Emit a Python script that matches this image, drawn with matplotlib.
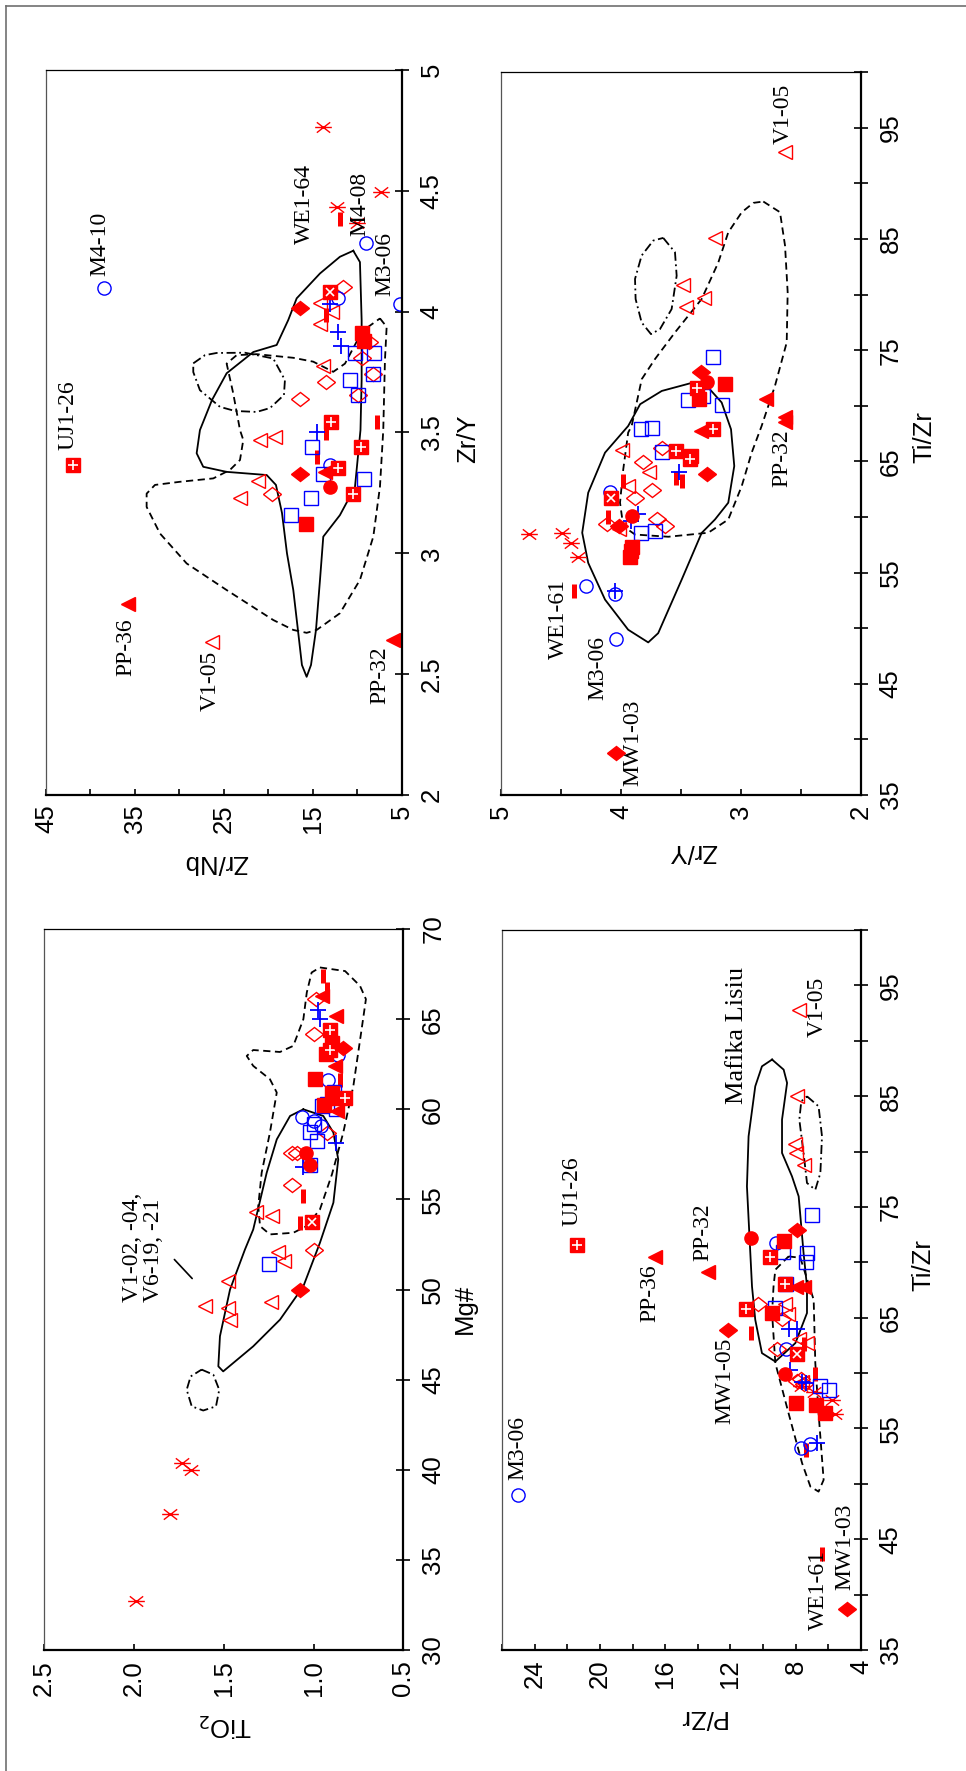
import matplotlib
matplotlib.use("Agg")
import matplotlib.pyplot as plt
from matplotlib.markers import MarkerStyle
from matplotlib.path import Path
from matplotlib.transforms import Affine2D
from matplotlib.lines import Line2D

RED = "#ff0000"
BLUE = "#0000ff"
SANS = ["Liberation Sans Narrow", "Liberation Sans", "DejaVu Sans"]
SERIF = ["Liberation Serif", "DejaVu Serif"]
plt.rcParams["font.family"] = SANS

# The page is rotated 90 degrees: every panel shows its original x variable
# running up the right side and its original y variable along the bottom.

# ---------- Zr/Nb vs Zr/Y (top left) ; each entry ([Zr/Y], [Zr/Nb]) ----------
zry_pts = {
    "star":   ([4.765, 4.496, 4.434, 4.365], [13.9, 7.3, 12.3, 10.1]),
    "dash":   ([4.385, 3.986, 3.545, 3.496, 3.40], [12.0, 13.5, 7.8, 13.5, 14.6]),
    "circ_o": ([4.285, 4.096, 4.03, 4.055, 3.365], [9.0, 38.45, 5.2, 12.15, 13.1]),
    "sq_o":   ([3.83, 3.83, 3.717, 3.742, 3.655, 3.44, 3.33, 3.307, 3.23, 3.158],
               [10.3, 8.15, 10.8, 8.2, 9.9, 15.15, 13.9, 9.3, 15.2, 17.5]),
    "dia_o":  ([4.10, 3.875, 3.81, 3.71, 3.742, 3.655, 3.637, 3.247],
               [11.6, 8.7, 9.5, 13.5, 8.2, 9.9, 16.5, 19.6]),
    "tri_o":  ([4.036, 4.0, 3.95, 3.775, 3.469, 3.48, 3.30, 3.227, 2.634],
               [14.2, 12.9, 14.2, 13.85, 21.0, 19.3, 21.15, 23.2, 26.3]),
    "plus":   ([4.03, 3.916, 3.858, 3.502, 3.35], [13.1, 12.2, 11.8, 14.6, 12.9]),
    "dia_f":  ([4.017, 3.33], [16.5, 16.5]),
    "sq_f":   ([3.91, 3.88, 3.12], [9.5, 9.3, 15.8]),
    "tri_f":  ([3.337, 2.79, 2.64], [13.65, 35.75, 5.98]),
    "circ_f": ([3.275], [13.1]),
    "sqx":    ([4.08], [13.1]),
    "sqplus": ([3.545, 3.44, 3.355, 3.245, 3.365], [13.0, 9.65, 12.2, 10.55, 42.0]),
}
zry_solid = ([4.252, 4.205, 3.965, 3.717, 3.51, 3.274, 3.158, 3.069, 2.89, 2.683, 2.538,
              2.489, 2.538, 2.683, 2.848, 3.0, 3.167, 3.283, 3.324, 3.337, 3.358, 3.414,
              3.51, 3.634, 3.745, 3.833, 3.862, 3.965, 4.055, 4.158, 4.227],
             [10.47, 9.72, 9.53, 9.53, 9.66, 10.28, 11.97, 13.84, 14.21, 14.66, 15.22,
              15.71, 16.24, 16.69, 17.21, 17.92, 18.48, 19.16, 20.2, 24.7, 27.33, 28.07,
              27.7, 26.35, 24.7, 21.7, 19.08, 17.78, 16.83, 14.21, 11.97])
zry_dashed = ([3.972, 3.937, 3.80, 3.51, 3.276, 3.069, 2.89, 2.752, 2.683, 2.671, 2.683,
               2.724, 2.848, 2.958, 3.082, 3.192, 3.247, 3.283, 3.296, 3.31, 3.345, 3.386,
               3.469, 3.51, 3.662, 3.785, 3.82, 3.824, 3.809, 3.793, 3.751, 3.785, 3.875,
               3.937],
              [7.47, 6.72, 6.91, 7.1, 7.47, 8.22, 9.72, 11.97, 14.58, 15.71, 17.21, 19.46,
               24.7, 29.19, 32.19, 33.69, 33.69, 32.75, 29.94, 26.2, 24.33, 23.2, 22.83,
               23.2, 23.96, 24.7, 23.57, 21.33, 17.21, 14.97, 12.72, 11.4, 10.1, 8.79])
zry_dashdot = ([3.786, 3.82, 3.829, 3.83, 3.806, 3.717, 3.655, 3.601, 3.585, 3.589, 3.606,
                3.675, 3.75],
               [28.45, 27.13, 25.82, 22.64, 19.46, 18.15, 18.26, 19.83, 21.33, 23.76,
                25.45, 27.7, 28.45])
zry_notes = [("UJ1-26", 3.427, 42.5), ("M4-10", 4.147, 38.9), ("WE1-64", 4.28, 15.9),
             ("M4-08", 4.313, 9.7), ("M3-06", 4.065, 6.9), ("PP-36", 2.492, 36.0),
             ("V1-05", 2.348, 26.5), ("PP-32", 2.376, 7.5)]

# ---------- Zr/Y vs Ti/Zr (top right) ; each entry ([Ti/Zr], [Zr/Y]) ----------
tzy_pts = {
    "tri_o":  ([92.8, 85.06, 80.86, 79.66, 78.85, 66.0, 64.0, 62.75, 58.9],
               [2.633, 3.22, 3.48, 3.306, 3.46, 3.99, 3.77, 3.94, 4.02]),
    "sq_o":   ([74.34, 70.5, 70.86, 70.1, 67.9, 68.0, 65.8, 58.55, 58.7],
               [3.23, 3.44, 3.32, 3.16, 3.83, 3.74, 3.66, 3.83, 3.72]),
    "dia_o":  ([66.2, 64.9, 62.4, 61.67, 59.4, 59.2, 59.8],
               [3.66, 3.82, 3.74, 3.88, 4.12, 3.63, 3.70]),
    "plus":   ([64.0, 60.3, 59.6, 53.3], [3.52, 3.86, 3.92, 4.05]),
    "dash":   ([63.5, 63.2, 63.2, 60.0, 53.3], [3.54, 3.49, 3.98, 4.11, 4.39]),
    "circ_o": ([62.2, 53.8, 53.1, 49.05], [4.09, 4.29, 4.05, 4.04]),
    "star":   ([58.5, 58.55, 57.65, 56.4], [4.77, 4.49, 4.42, 4.36]),
    "dia_f":  ([73.05, 63.9, 59.2, 38.8], [3.33, 3.28, 4.02, 4.04]),
    "circ_f": ([72.15, 60.05], [3.28, 3.91]),
    "sq_f":   ([71.94, 70.6, 65.5, 57.3, 56.4, 56.9], [3.13, 3.35, 3.42, 3.91, 3.925, 3.92]),
    "tri_f":  ([70.6, 69.0, 68.5, 67.7], [2.79, 2.63, 2.63, 3.33]),
    "sqx":    ([61.7], [4.08]),
    "sqplus": ([71.6, 67.9, 65.9, 65.2], [3.37, 3.23, 3.54, 3.425]),
}
tzy_solid = ([72.09, 71.33, 70.14, 68.18, 65.78, 62.18, 58.58, 55.87, 52.57, 49.86, 48.72,
              49.55, 54.37, 58.56, 59.77, 61.28, 64.58, 67.88, 70.29, 71.64],
             [3.398, 3.66, 3.84, 3.94, 4.133, 4.273, 4.323, 4.273, 4.133, 3.94, 3.773,
              3.69, 3.494, 3.328, 3.217, 3.106, 3.056, 3.083, 3.161, 3.273])
tzy_dashed = ([88.36, 87.4, 84.4, 80.2, 75.69, 71.78, 68.18, 65.78, 62.77, 59.77, 58.58,
               58.22, 58.42, 59.17, 61.28, 64.28, 67.59, 68.18, 72.39, 74.19, 76.59, 79.59,
               82.88, 85.59, 87.39, 88.24],
              [2.814, 2.675, 2.633, 2.611, 2.619, 2.717, 2.828, 2.911, 2.994, 3.106, 3.273,
               3.606, 3.883, 3.981, 4.008, 3.981, 3.94, 3.911, 3.827, 3.717, 3.55, 3.328,
               3.189, 3.106, 2.994, 2.897])
tzy_dashdot = ([85.09, 83.8, 81.69, 78.69, 76.89, 76.44, 77.49, 79.59, 81.4, 83.5, 84.85],
               [3.648, 3.55, 3.536, 3.578, 3.675, 3.75, 3.828, 3.878, 3.883, 3.828, 3.731])
tzy_notes = [("V1-05", 93.56, 2.65), ("PP-32", 62.66, 2.658), ("WE1-61", 47.25, 4.525),
             ("M3-06", 43.56, 4.19), ("MW1-03", 35.81, 3.9)]

# ---------- TiO2 vs Mg# (bottom left) ; each entry ([Mg#], [TiO2]) ----------
mg_pts = {
    "dash":   ([67.4, 66.7, 61.65, 55.2, 53.7], [0.95, 0.924, 0.853, 1.057, 1.076]),
    "dia_o":  ([66.1, 64.2, 58.7, 57.6, 57.6, 55.8, 52.2],
               [0.987, 1.0, 0.927, 1.122, 1.09, 1.12, 1.0]),
    "plus":   ([65.5, 65.0, 58.15, 56.8], [0.974, 0.964, 0.876, 1.057]),
    "sq_f":   ([63.7, 63.05, 61.7, 60.9, 60.6, 60.25], [0.90, 0.93, 0.99, 0.90, 0.89, 0.94]),
    "tri_f":  ([66.3, 65.2, 62.4, 59.9], [0.955, 0.875, 0.88, 0.87]),
    "sqplus": ([64.4, 63.3, 60.65], [0.909, 0.91, 0.826]),
    "dia_f":  ([63.4, 49.96], [0.835, 1.076]),
    "circ_o": ([63.0, 61.65, 59.6, 59.35, 59.07], [0.866, 0.918, 1.066, 1.0, 0.957]),
    "sq_o":   ([60.96, 60.2, 60.3, 60.04, 59.2, 58.74, 58.24, 56.9, 51.4],
               [0.885, 0.955, 0.927, 0.877, 1.0, 1.02, 0.98, 1.02, 1.246]),
    "circ_f": ([57.6, 56.9], [1.044, 1.02]),
    "tri_o":  ([54.3, 54.1, 52.07, 51.6, 50.5, 49.07, 49.0, 48.3, 49.3],
               [1.32, 1.23, 1.196, 1.163, 1.475, 1.604, 1.478, 1.465, 1.237]),
    "sqx":    ([53.74], [1.01]),
    "star":   ([40.4, 40.0, 37.55, 32.7], [1.73, 1.68, 1.80, 1.99]),
}
mg_solid = ([60.0, 59.63, 58.71, 57.22, 54.82, 52.59, 50.18, 48.33, 46.85, 45.46, 45.74,
             47.41, 50.0, 52.22, 53.33, 56.48, 58.33, 59.63],
            [1.057, 0.946, 0.89, 0.863, 0.89, 0.965, 1.057, 1.187, 1.336, 1.503, 1.53,
             1.521, 1.465, 1.382, 1.336, 1.261, 1.205, 1.131])
mg_dashed = ([67.87, 67.67, 66.85, 66.11, 64.44, 61.29, 58.71, 56.39, 54.44, 53.52, 53.15,
              53.06, 53.52, 54.63, 56.48, 58.71, 60.93, 61.67, 62.41, 62.96, 63.29, 63.18,
              63.52, 65.0, 66.48, 67.59],
             [0.965, 0.825, 0.742, 0.709, 0.733, 0.779, 0.835, 0.898, 0.965, 1.039, 1.113,
              1.243, 1.298, 1.308, 1.289, 1.243, 1.205, 1.243, 1.336, 1.372, 1.336, 1.187,
              1.113, 1.057, 1.038, 1.011])
mg_dashdot = ([45.56, 45.28, 44.44, 43.52, 43.29, 43.52, 44.44, 45.18],
              [1.623, 1.558, 1.525, 1.543, 1.614, 1.678, 1.706, 1.684])
mg_notes = [("V1-02, -04,\nV6-19, -21", 49.33, 1.949)]

# ---------- P/Zr vs Ti/Zr (bottom right) ; each entry ([Ti/Zr], [P/Zr]) ----------
pz_pts = {
    "tri_o":  ([92.8, 85.0, 80.7, 79.9, 78.75, 66.2, 65.3, 63.1, 62.7, 59.2],
               [7.78, 7.92, 8.07, 8.0, 7.52, 8.64, 8.5, 7.82, 7.3, 7.6]),
    "sq_o":   ([74.3, 70.9, 70.8, 70.05, 65.85, 68.0, 58.8, 58.5],
               [7.0, 8.8, 7.3, 7.4, 9.25, 8.6, 6.5, 5.94]),
    "dia_o":  ([66.2, 64.9, 62.2, 59.5, 59.0, 59.3], [10.3, 8.85, 9.15, 7.7, 7.5, 7.9]),
    "plus":   ([64.0, 64.0, 60.3, 59.2, 59.1, 53.7], [8.44, 7.92, 8.33, 7.6, 7.35, 6.7]),
    "dash":   ([63.6, 62.6, 59.9, 53.07, 43.7], [10.75, 7.52, 6.84, 7.35, 6.4]),
    "circ_o": ([71.7, 62.2, 53.2, 53.6, 49.0], [9.19, 8.58, 7.66, 7.1, 25.04]),
    "star":   ([58.8, 58.3, 57.6, 56.3], [7.7, 6.9, 5.8, 5.57]),
    "dia_f":  ([72.9, 63.9, 38.7], [7.92, 12.15, 4.85]),
    "circ_f": ([72.2, 59.9], [10.72, 8.68]),
    "sq_f":   ([71.9, 65.4, 57.3, 57.1, 56.4], [8.74, 9.46, 8.0, 6.77, 6.2]),
    "tri_f":  ([70.5, 69.1, 67.8, 67.8], [16.6, 13.35, 8.0, 7.5]),
    "sqx":    ([61.7], [7.92]),
    "sqplus": ([71.6, 70.5, 65.8, 68.0], [21.42, 9.56, 11.05, 8.64]),
}
pz_solid = ([88.3, 87.39, 86.19, 82.88, 79.87, 77.76, 75.95, 70.84, 67.82, 65.42, 62.71,
             61.04, 61.8, 64.81, 67.82, 76.85, 81.37, 85.89, 87.69],
            [9.45, 8.74, 8.53, 8.84, 8.84, 8.23, 7.82, 7.52, 7.31, 7.31, 8.02, 9.25, 10.07,
             10.48, 10.68, 10.99, 10.89, 10.48, 10.07])
pz_dashed = ([70.53, 70.41, 66.62, 60.9, 56.38, 50.36, 49.3, 49.75, 51.87, 56.38, 60.9,
              65.42, 67.82, 69.33],
             [8.44, 7.72, 6.9, 6.8, 6.6, 6.29, 6.6, 7.1, 7.61, 8.44, 9.25, 9.45, 9.36, 9.25])
pz_dashdot = ([84.98, 84.08, 81.37, 78.06, 76.55, 77.16, 79.87, 82.88, 84.53],
              [7.31, 6.6, 6.39, 6.49, 6.8, 7.31, 7.52, 7.78, 7.66])
pz_notes = [("UJ1-26", 73.3, 21.7), ("PP-32", 70.14, 13.67), ("PP-36", 64.63, 16.92),
            ("Mafika Lisiu", 84.32, 11.58), ("V1-05", 90.37, 6.67), ("M3-06", 50.36, 25.02),
            ("MW1-05", 55.42, 12.32), ("WE1-61", 36.81, 6.61), ("MW1-03", 40.42, 4.96)]

# ---------- marker styles (turned with the page) ----------
STAR = MarkerStyle(Path([(-1, 0), (1, 0), (-0.8, -0.62), (0.8, 0.62), (-0.8, 0.62), (0.8, -0.62)],
                        [Path.MOVETO, Path.LINETO] * 3))
DIA = MarkerStyle("D", transform=Affine2D().scale(1.0, 0.75))
STYLE = {
    "circ_o": dict(marker="o", mfc="none", mec=BLUE, ms=9.5, mew=1.0),
    "sq_o":   dict(marker="s", mfc="none", mec=BLUE, ms=10, mew=1.0),
    "plus":   dict(marker="+", color=BLUE, ms=11, mew=1.3),
    "tri_o":  dict(marker="<", mfc="none", mec=RED, ms=10.5, mew=1.0),
    "tri_f":  dict(marker="<", color=RED, ms=10.5),
    "dia_o":  dict(marker=DIA, mfc="none", mec=RED, ms=9.5, mew=1.0),
    "dia_f":  dict(marker=DIA, color=RED, ms=9.5),
    "sq_f":   dict(marker="s", color=RED, ms=10.5),
    "circ_f": dict(marker="o", color=RED, ms=9.5),
    "dash":   dict(marker="|", color=RED, ms=9.5, mew=3.6),
    "star":   dict(marker=STAR, mfc="none", mec=RED, ms=12, mew=1.0),
    "sqplus": dict(marker="s", color=RED, ms=10.5),
    "sqx":    dict(marker="s", color=RED, ms=10.5),
}
ORDER = ["star", "dash", "tri_o", "dia_o", "sq_o", "circ_o", "plus", "sq_f", "sqplus",
         "sqx", "tri_f", "dia_f", "circ_f"]


def draw_panel(ax, pts, solid, dashed, dashdot, notes):
    for line, ls in ((solid, "-"), (dashed, (0, (4, 2.5))), (dashdot, (0, (5, 2, 1, 2)))):
        up, across = line
        ax.plot(list(across) + [across[0]], list(up) + [up[0]], color="black", lw=1.3, ls=ls)
    for key in ORDER:
        if key not in pts:
            continue
        up, across = pts[key]
        ax.plot(across, up, ls="none", **STYLE[key])
        if key == "sqplus":
            ax.plot(across, up, ls="none", marker="+", color="white", ms=7, mew=1.2)
        if key == "sqx":
            ax.plot(across, up, ls="none", marker="x", color="white", ms=6, mew=1.2)
    for txt, up, across in notes:
        size = 19 if "Lisiu" in txt else 17
        ax.text(across, up, txt, rotation=90, rotation_mode="anchor", ha="left",
                va="center", family=SERIF, fontsize=size, linespacing=1.0)


def frame(ax, hlim, vlim, hmaj, hlab, hmin, vmaj, vlab, vmin, hname, vname, hpos, vpos):
    ax.set_xlim(*hlim)
    ax.set_ylim(*vlim)
    ax.yaxis.tick_right()
    ax.set_xticks(hmaj)
    ax.set_xticklabels(hlab, rotation=90)
    ax.set_xticks(hmin, minor=True)
    ax.set_yticks(vmaj)
    ax.set_yticklabels(vlab, rotation=90, va="center")
    ax.set_yticks(vmin, minor=True)
    ax.tick_params(axis="x", which="both", direction="in", length=4.5, width=1.2,
                   labelsize=18.5, pad=7)
    ax.tick_params(axis="y", which="both", direction="inout", length=9.5, width=1.2,
                   labelsize=18.5, pad=8, left=False, right=True)
    for side in ("right", "bottom"):
        ax.spines[side].set_linewidth(1.6)
    ax.spines["top"].set_linewidth(0.9)
    ax.spines["left"].set_linewidth(0.9)
    ax.spines["left"].set_color("#555555")
    ax.set_xlabel(hname, rotation=180, fontsize=18.5)
    ax.xaxis.set_label_coords(*hpos)
    ax.xaxis.label.set_va("center")
    ax.yaxis.set_label_position("right")
    ax.set_ylabel(vname, rotation=90, fontsize=18.5)
    ax.yaxis.set_label_coords(*vpos)
    ax.yaxis.label.set_va("center")


fig = plt.figure(figsize=(9.66, 17.71), dpi=100)

ax_tl = fig.add_axes([0.0476, 0.5511, 0.3685, 0.4094])
frame(ax_tl, (45, 5), (2, 5), [45, 35, 25, 15, 5], ["45", "35", "25", "15", "5"],
      [40, 30, 20, 10], [2, 2.5, 3, 3.5, 4, 4.5, 5],
      ["2", "2.5", "3", "3.5", "4", "4.5", "5"], [], "Zr/Nb", "Zr/Y",
      (0.478, -0.092), (1.185, 0.492))
draw_panel(ax_tl, zry_pts, zry_solid, zry_dashed, zry_dashdot, zry_notes)

ax_tr = fig.add_axes([0.5186, 0.5511, 0.3727, 0.4082])
frame(ax_tr, (5, 2), (35, 100), [5, 4, 3, 2], ["5", "4", "3", "2"], [4.5, 3.5, 2.5],
      [35, 45, 55, 65, 75, 85, 95], ["35", "45", "55", "65", "75", "85", "95"],
      [40, 50, 60, 70, 80, 90, 100], "Zr/Y", "Ti/Zr", (0.533, -0.078), (1.175, 0.495))
draw_panel(ax_tr, tzy_pts, tzy_solid, tzy_dashed, tzy_dashdot, tzy_notes)

ax_bl = fig.add_axes([0.0455, 0.0683, 0.3722, 0.4071])
frame(ax_bl, (2.5, 0.5), (30, 70), [2.5, 2.0, 1.5, 1.0, 0.5],
      ["2.5", "2.0", "1.5", "1.0", "0.5"], [], [30, 35, 40, 45, 50, 55, 60, 65, 70],
      ["30", "35", "40", "45", "50", "55", "60", "65", "70"], [], "TiO$_2$", "Mg#",
      (0.503, -0.103), (1.171, 0.473))
draw_panel(ax_bl, mg_pts, mg_solid, mg_dashed, mg_dashdot, mg_notes)
ax_bl.annotate("", xy=(1.665, 50.5), xytext=(1.785, 51.78),
               arrowprops=dict(arrowstyle="-", color="black", lw=1.2))

ax_br = fig.add_axes([0.5197, 0.0683, 0.3716, 0.4066])
frame(ax_br, (26, 4), (35, 100), [24, 20, 16, 12, 8, 4], ["24", "20", "16", "12", "8", "4"],
      [26, 22, 18, 14, 10, 6], [35, 45, 55, 65, 75, 85, 95],
      ["35", "45", "55", "65", "75", "85", "95"], [40, 50, 60, 70, 80, 90, 100],
      "P/Zr", "Ti/Zr", (0.557, -0.093), (1.175, 0.535))
draw_panel(ax_br, pz_pts, pz_solid, pz_dashed, pz_dashdot, pz_notes)

# page border (top and left edges)
fig.add_artist(Line2D([0.0062, 1.0], [0.9966, 0.9966], transform=fig.transFigure,
                      color="#707070", lw=1.2))
fig.add_artist(Line2D([0.0062, 0.0062], [0.0, 0.9966], transform=fig.transFigure,
                      color="#707070", lw=1.2))

fig.savefig("out.png", dpi=100)
